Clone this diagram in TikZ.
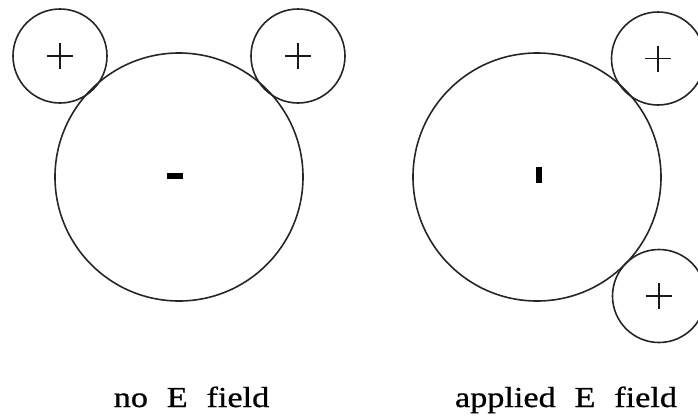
\documentclass[tikz,border=0pt]{standalone}
\usepackage{fontspec}
\setmainfont{Liberation Serif}
\newfontfamily\capfont[FakeBold=0.7]{Liberation Serif}
\usetikzlibrary{calc}
\begin{document}
\begin{tikzpicture}[x=1pt,y=-1pt,
  ring/.style={circle,draw=black!85,line width=1.6pt,inner sep=0pt,minimum size=#1},
  plusline/.style={draw=black!90,line width=1.3pt},
  bar/.style={fill=black,draw=none,inner sep=0pt,rectangle},
  caption/.style={font=\capfont\fontsize{29}{31}\selectfont,xscale=1.18,anchor=base,text=black}]
\useasboundingbox (0,0) rectangle (698,418);
\clip (0,0) rectangle (698,418);
% left panel
\node[ring=248] (bigL) at (179,177) {};
\node[ring=94] (sLa) at (60,56) {};
\node[ring=94] (sLb) at (298,56) {};
\node[bar,minimum width=16,minimum height=6] (minusL) at (175,176) {};
% right panel
\node[ring=248] (bigR) at (537,177) {};
\node[ring=93] (sRa) at (658,58.5) {};
\node[ring=93] (sRb) at (659,296) {};
\node[bar,minimum width=6,minimum height=16] (minusR) at (539,175) {};
% plus signs
\foreach \n in {sLa,sLb,sRa,sRb}{
  \draw[plusline] ($(\n.center)+(-13,0)$) -- ($(\n.center)+(13,0)$);
  \draw[plusline] ($(\n.center)+(0,-13)$) -- ($(\n.center)+(0,13)$);
}
% captions
\node[caption] (capL) at (191.5,407) {no\hspace{0.55em}E\hspace{0.55em}field};
\node[caption] (capR) at (566,407) {applied\hspace{0.55em}E\hspace{0.55em}field};
\end{tikzpicture}
\end{document}
